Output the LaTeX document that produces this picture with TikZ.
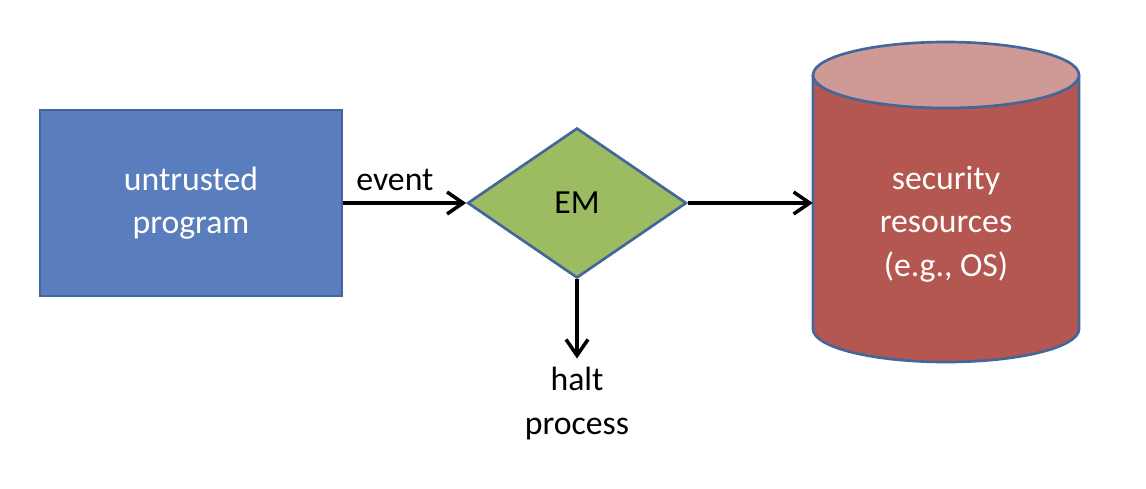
\documentclass[tikz,border=0pt]{standalone}
\usepackage{fontspec}
\setmainfont{Carlito}
\usetikzlibrary{arrows.meta, positioning, shapes.geometric}

\definecolor{progblue}{HTML}{5A7EBD}
\definecolor{edgeblue}{HTML}{43679B}
\definecolor{emgreen}{HTML}{9DBB61}
\definecolor{resred}{HTML}{B35750}
\definecolor{restop}{HTML}{CF9A96}

\begin{document}
\begin{tikzpicture}[
    every node/.style={font=\fontsize{24}{31}\selectfont},
    program/.style={rectangle, draw=edgeblue, line width=1.9pt, fill=progblue, text=white,
        minimum width=7.55cm, minimum height=4.65cm, align=center},
    monitor/.style={diamond, draw=edgeblue, line width=1.9pt, fill=emgreen,
        minimum width=5.475cm, minimum height=3.75cm, inner sep=0pt},
    store/.style={rectangle, minimum width=6.65cm, minimum height=8cm, inner sep=0pt},
    rim/.style={draw=edgeblue, line width=1.9pt},
    arrow/.style={-{Straight Barb[length=0.4cm, width=0.55cm]}, line width=2.5pt},
    label/.style={inner sep=2pt}
]

\useasboundingbox (0, 0) rectangle (28.65, -12.2);

% Boxes
\node[program] (prog) at (4.775, -5.075) {untrusted\\program};
\node[monitor] (em) at (14.425, -5.075) {EM};

% Cylinder for the resources
\node[store] (res) at (23.65, -5.05) {};
\fill[resred] (20.325, -1.875) -- (20.325, -8.225)
    arc[start angle=180, end angle=360, x radius=3.325, y radius=0.825] -- (26.975, -1.875) -- cycle;
\draw[rim] (20.325, -1.875) -- (20.325, -8.225)
    arc[start angle=180, end angle=360, x radius=3.325, y radius=0.825] -- (26.975, -1.875);
\draw[rim, fill=restop] (23.65, -1.875) ellipse[x radius=3.325, y radius=0.825];
\node[text=white, align=center] (restext) at (23.65, -5.6) {security\\resources\\(e.g., OS)};

% Halt output
\node[label, inner sep=6pt, align=center, below=1.98cm of em] (halt) {halt\\process};

% Arrows
\draw[arrow] (prog.east) -- (em.west) node[label, pos=0.42, above, yshift=0.2cm] {event};
\draw[arrow] (em.east) -- (em.east -| res.west);
\draw[arrow] (em.south) -- (halt.north);

\end{tikzpicture}
\end{document}
